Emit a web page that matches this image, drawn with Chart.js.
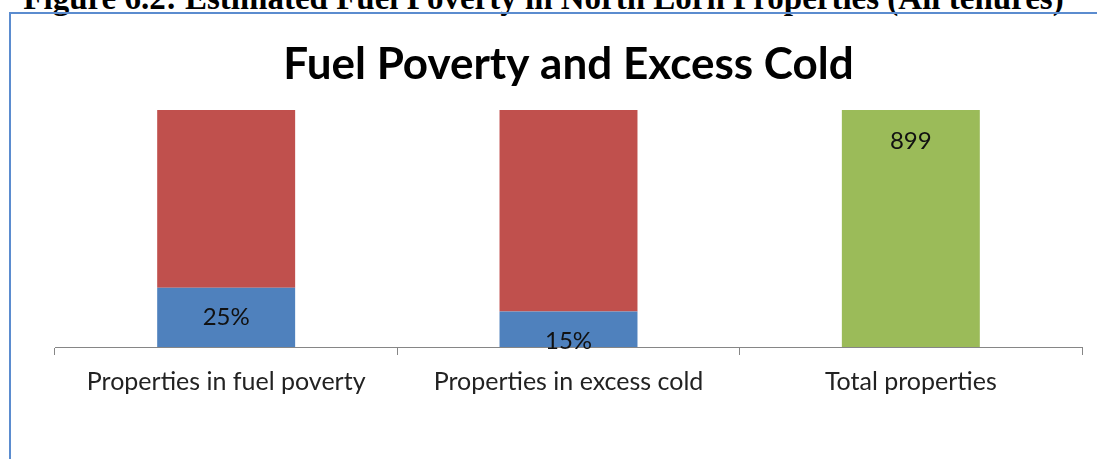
<!DOCTYPE html>
<html>
<head>
<meta charset="utf-8">
<script src="https://cdn.jsdelivr.net/npm/chart.js@4.4.1/dist/chart.umd.min.js"></script>
<style>
  html, body { margin: 0; padding: 0; background: #fff; overflow: hidden; }
  #page { position: relative; width: 1097px; height: 459px; }
  #caption {
    position: absolute; left: -5px; top: -20px; width: 1097px; text-align: center;
    font: bold 33px "Liberation Serif", "Times New Roman", serif; color: #000; white-space: nowrap;
  }
  #frame {
    position: absolute; left: 9px; top: 12px; width: 1100px; height: 460px;
    border-left: 2px solid #5b8ccf; border-top: 2px solid #5b8ccf;
  }
  #wrap { position: absolute; left: 0; top: 0; width: 1097px; height: 459px; }
</style>
</head>
<body>
<div id="page">
  <div id="caption">Figure 6.2: Estimated Fuel Poverty in North Lorn Properties (All tenures)</div>
  <div id="frame"></div>
  <div id="wrap"><canvas id="chart"></canvas></div>
</div>
<script>
// Chart data
const categories = ['Properties in fuel poverty', 'Properties in excess cold', 'Total properties'];
const shareValues = [25, 15, null];       // % of properties affected (blue)
const remainderValues = [75, 85, null];   // rest of the properties (red)
const totalValues = [null, null, 100];    // full bar for total (green)
const shareLabels = ['25%', '15%', ''];
const totalLabels = ['', '', '899'];

const FONT = 'Lato, "Open Sans", sans-serif';

// Draw the value labels inside the bars, Excel-style
const barLabels = {
  id: 'barLabels',
  afterDatasetsDraw(chart) {
    const ctx = chart.ctx;
    ctx.save();
    ctx.font = '24px ' + FONT;
    ctx.fillStyle = '#111';
    ctx.textAlign = 'center';
    ctx.textBaseline = 'middle';
    chart.getDatasetMeta(0).data.forEach((bar, i) => {
      if (!shareLabels[i]) return;
      const h = bar.base - bar.y;
      const y = h < 40 ? bar.base - 6 : (bar.y + bar.base) / 2;
      ctx.fillText(shareLabels[i], bar.x, y);
    });
    chart.getDatasetMeta(2).data.forEach((bar, i) => {
      if (!totalLabels[i]) return;
      ctx.fillText(totalLabels[i], bar.x, bar.y + 31);
    });
    ctx.restore();
  },
};

new Chart(document.getElementById('chart'), {
  type: 'bar',
  data: {
    labels: categories,
    datasets: [
      { data: shareValues, backgroundColor: '#4f81bd' },
      { data: remainderValues, backgroundColor: '#c0504d' },
      { data: totalValues, backgroundColor: '#9bbb59' },
    ],
  },
  options: {
    responsive: true,
    maintainAspectRatio: false,
    animation: false,
    categoryPercentage: 1,
    barPercentage: 0.403,
    layout: { padding: { left: 55, right: 15, top: 38.6, bottom: 50 } },
    plugins: {
      legend: { display: false },
      tooltip: { enabled: false },
      title: {
        display: true,
        text: 'Fuel Poverty and Excess Cold',
        color: '#000',
        font: { family: FONT, size: 44, weight: 'bold' },
        padding: { top: 0, bottom: 18.6 },
      },
    },
    scales: {
      x: {
        stacked: true,
        grid: { offset: true, drawOnChartArea: false, tickLength: 8, color: '#868686' },
        border: { color: '#868686' },
        ticks: { color: '#222', padding: 12, font: { family: FONT, size: 25 } },
      },
      y: { stacked: true, display: false, min: 0, max: 100 },
    },
  },
  plugins: [barLabels],
});
</script>
</body>
</html>
